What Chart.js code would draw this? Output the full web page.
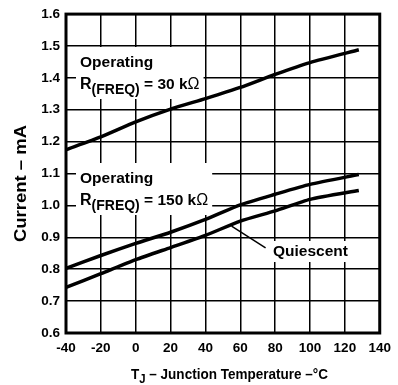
<!DOCTYPE html>
<html>
<head>
<meta charset="utf-8">
<script src="https://cdn.jsdelivr.net/npm/chart.js@4.4.0/dist/chart.umd.min.js"></script>
<style>
  html, body { margin: 0; padding: 0; background: #fff; }
  #wrap { width: 398px; height: 385px; }
</style>
</head>
<body>
<div id="wrap"><canvas id="chart" width="398" height="385"></canvas></div>
<script>
// Supply current vs junction temperature
const temps = [-40, -20, 0, 20, 40, 60, 80, 100, 128];
const operating30k = [1.175, 1.215, 1.262, 1.302, 1.335, 1.370, 1.411, 1.448, 1.488];
const operating150k = [0.803, 0.843, 0.881, 0.916, 0.956, 1.002, 1.035, 1.066, 1.097];
const quiescent = [0.743, 0.786, 0.830, 0.868, 0.906, 0.951, 0.983, 1.019, 1.047];

const xTicks = [-40, -20, 0, 20, 40, 60, 80, 100, 120, 140];
const yTicks = ['0.6', '0.7', '0.8', '0.9', '1.0', '1.1', '1.2', '1.3', '1.4', '1.5', '1.6'];

const FONT = '"Liberation Sans", Arial, Helvetica, sans-serif';

function toPoints(ys) {
    return temps.map((t, i) => ({ x: t, y: ys[i] }));
}

// Draws a run of text pieces left to right; each piece may be shifted down (subscript)
function drawRun(ctx, parts, x, y) {
    let cx = x;
    parts.forEach(p => {
        ctx.font = (p.weight || 'bold') + ' ' + p.size + 'px ' + FONT;
        ctx.fillText(p.text, cx, y + (p.dy || 0));
        cx += ctx.measureText(p.text).width;
    });
    return cx - x;
}

function runWidth(ctx, parts) {
    let w = 0;
    parts.forEach(p => {
        ctx.font = (p.weight || 'bold') + ' ' + p.size + 'px ' + FONT;
        w += ctx.measureText(p.text).width;
    });
    return w;
}

// Curve labels: white boxes knock out the grid, text goes on top
const curveLabels = {
    id: 'curveLabels',
    beforeDatasetsDraw(chart) {
        const ctx = chart.ctx;
        const x = chart.scales.x, y = chart.scales.y;
        ctx.save();
        ctx.textAlign = 'left';
        ctx.textBaseline = 'alphabetic';

        const blocks = [
            { left: 80, base: 67, r: '30 k' },
            { left: 80, base: 183, r: '150 k' }
        ];
        blocks.forEach(b => {
            const line1 = [{ text: 'Operating', size: 15.5 }];
            const line2 = [
                { text: 'R', size: 16 },
                { text: '(FREQ)', size: 14, dy: 5 },
                { text: ' = ' + b.r, size: 15.5 },
                { text: 'Ω', size: 16, weight: 'normal' }
            ];
            const w = Math.max(runWidth(ctx, line1), runWidth(ctx, line2));
            ctx.fillStyle = '#fff';
            ctx.fillRect(b.left - 4, b.base - 20, w + 8, 52);
            ctx.fillStyle = '#000';
            drawRun(ctx, line1, b.left, b.base);
            drawRun(ctx, line2, b.left, b.base + 22);
        });

        // Quiescent callout
        const q = [{ text: 'Quiescent', size: 15.5 }];
        const qw = runWidth(ctx, q);
        ctx.fillStyle = '#fff';
        ctx.fillRect(270, 241, qw + 6, 21);
        ctx.fillStyle = '#000';
        drawRun(ctx, q, 273, 256);

        ctx.strokeStyle = '#000';
        ctx.lineWidth = 1.5;
        ctx.beginPath();
        ctx.moveTo(x.getPixelForValue(55), y.getPixelForValue(0.935));
        ctx.lineTo(x.getPixelForValue(74.5), y.getPixelForValue(0.867));
        ctx.stroke();
        ctx.restore();
    },
    afterDraw(chart) {
        const ctx = chart.ctx;
        const a = chart.chartArea;
        ctx.save();
        // heavy frame round the plot
        ctx.strokeStyle = '#000';
        ctx.lineWidth = 3;
        ctx.strokeRect(a.left, a.top, a.right - a.left, a.bottom - a.top);

        ctx.fillStyle = '#000';
        ctx.textBaseline = 'alphabetic';

        // x axis title with subscript J
        const xt = [
            { text: 'T', size: 15.5 },
            { text: 'J', size: 13, dy: 4 },
            { text: ' – Junction Temperature –°C', size: 15.5 }
        ];
        const xw = runWidth(ctx, xt);
        const xs = 197 / xw;
        ctx.save();
        ctx.translate(131, 379);
        ctx.scale(xs, 1);
        drawRun(ctx, xt, 0, 0);
        ctx.restore();

        // y axis title
        const yt = [{ text: 'Current – mA', size: 16 }];
        const yw = runWidth(ctx, yt);
        ctx.save();
        ctx.translate(26, 242);
        ctx.rotate(-Math.PI / 2);
        ctx.scale(117 / yw, 1);
        drawRun(ctx, yt, 0, 0);
        ctx.restore();

        ctx.restore();
    }
};

const lineStyle = {
    borderColor: '#000',
    borderWidth: 3.5,
    pointRadius: 0,
    fill: false,
    tension: 0.2
};

new Chart(document.getElementById('chart'), {
    type: 'line',
    data: {
        datasets: [
            Object.assign({ label: 'Operating 30k', data: toPoints(operating30k) }, lineStyle),
            Object.assign({ label: 'Operating 150k', data: toPoints(operating150k) }, lineStyle),
            Object.assign({ label: 'Quiescent', data: toPoints(quiescent) }, lineStyle)
        ]
    },
    options: {
        responsive: false,
        animation: false,
        devicePixelRatio: 1,
        layout: { padding: { top: 11, right: 13, left: 0, bottom: 0 } },
        plugins: {
            legend: { display: false },
            tooltip: { enabled: false }
        },
        scales: {
            x: {
                type: 'linear',
                min: -40,
                max: 140,
                afterBuildTicks: axis => { axis.ticks = xTicks.map(v => ({ value: v })); },
                afterFit: axis => { axis.height = 52; },
                grid: { color: '#000', lineWidth: 1.5, drawTicks: false },
                border: { display: false },
                ticks: {
                    color: '#000',
                    padding: 7,
                    maxRotation: 0,
                    font: { family: FONT, size: 13.5, weight: 'bold' },
                    callback: v => String(v)
                }
            },
            y: {
                type: 'linear',
                min: 0.6,
                max: 1.6,
                afterBuildTicks: axis => { axis.ticks = yTicks.map(v => ({ value: parseFloat(v) })); },
                afterFit: axis => { axis.width = 66; },
                grid: { color: '#000', lineWidth: 1.5, drawTicks: false },
                border: { display: false },
                ticks: {
                    color: '#000',
                    padding: 6,
                    font: { family: FONT, size: 13.5, weight: 'bold' },
                    callback: v => yTicks.find(t => Math.abs(parseFloat(t) - v) < 1e-6) || v.toFixed(1)
                }
            }
        }
    },
    plugins: [curveLabels]
});
</script>
</body>
</html>
